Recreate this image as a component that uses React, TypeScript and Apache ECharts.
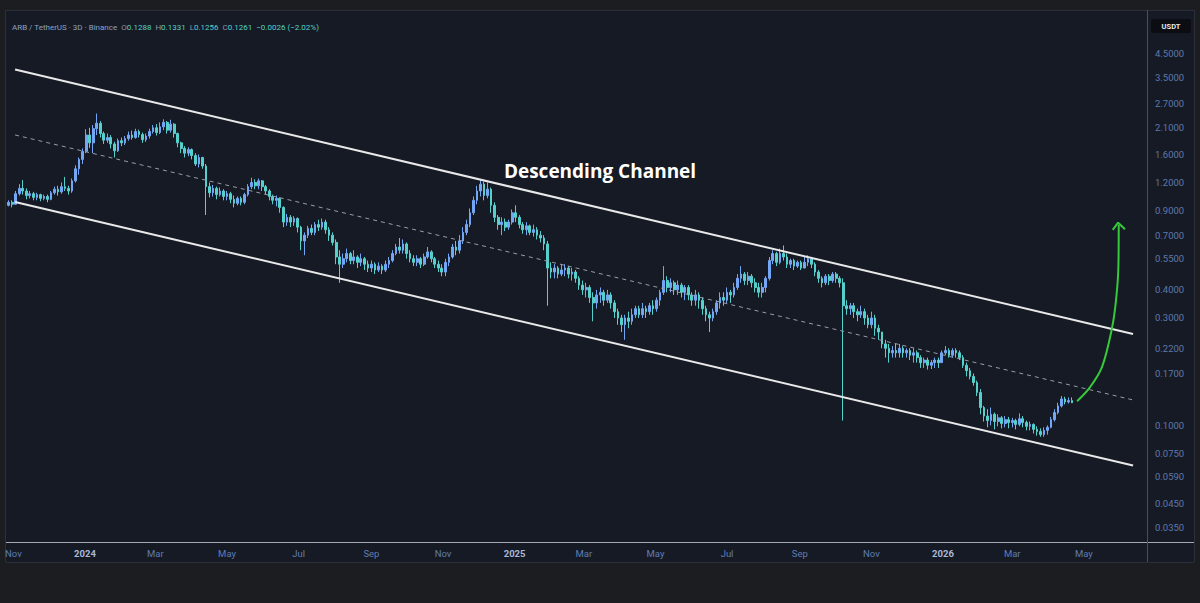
import React, { useEffect, useRef } from "react";
import * as echarts from "echarts";

// ---------------- DATA ----------------
const FIRST_CANDLE = Date.UTC(2023, 9, 28);
const CANDLE_STEP_DAYS = 3;
const firstOpen = 0.95;

const closes = [
  0.98, 0.96, 1.07, 1.13, 1.10, 1.05, 1.07, 1.03, 1.06, 1.02,
  1.04, 1.01, 1.08, 1.12, 1.09, 1.15, 1.13, 1.10, 1.22, 1.38,
  1.52, 1.65, 1.95, 1.80, 2.08, 2.20, 1.98, 1.85, 1.90, 1.78,
  1.66, 1.84, 1.80, 1.88, 1.95, 1.90, 2.02, 1.96, 1.86, 1.93,
  2.02, 2.10, 2.00, 2.12, 2.22, 2.05, 2.18, 1.98, 1.80, 1.70,
  1.62, 1.68, 1.58, 1.45, 1.55, 1.42, 1.15, 1.08, 1.13, 1.06,
  1.10, 1.04, 1.07, 1.01, 0.97, 1.02, 0.98, 1.06, 1.15, 1.20,
  1.16, 1.22, 1.15, 1.10, 1.04, 1.00, 1.02, 0.93, 0.80, 0.84,
  0.80, 0.83, 0.76, 0.66, 0.70, 0.75, 0.72, 0.78, 0.76, 0.80,
  0.74, 0.70, 0.65, 0.56, 0.52, 0.55, 0.58, 0.54, 0.56, 0.53,
  0.55, 0.52, 0.50, 0.52, 0.49, 0.51, 0.49, 0.52, 0.54, 0.58,
  0.62, 0.60, 0.64, 0.58, 0.55, 0.53, 0.55, 0.52, 0.56, 0.59,
  0.55, 0.52, 0.50, 0.48, 0.53, 0.56, 0.62, 0.60, 0.66, 0.72,
  0.78, 0.88, 1.00, 1.10, 1.18, 1.05, 1.12, 0.95, 0.84, 0.78,
  0.80, 0.76, 0.80, 0.88, 0.84, 0.78, 0.74, 0.77, 0.72, 0.74,
  0.70, 0.68, 0.64, 0.50, 0.48, 0.50, 0.47, 0.49, 0.50, 0.47,
  0.48, 0.45, 0.42, 0.40, 0.41, 0.37, 0.35, 0.38, 0.39, 0.36,
  0.38, 0.35, 0.32, 0.30, 0.28, 0.30, 0.29, 0.31, 0.33, 0.31,
  0.33, 0.32, 0.34, 0.33, 0.36, 0.39, 0.44, 0.41, 0.43, 0.40,
  0.42, 0.39, 0.41, 0.38, 0.36, 0.38, 0.36, 0.33, 0.31, 0.30,
  0.32, 0.35, 0.37, 0.36, 0.39, 0.38, 0.41, 0.45, 0.47, 0.44,
  0.46, 0.43, 0.41, 0.39, 0.41, 0.45, 0.54, 0.58, 0.53, 0.58,
  0.56, 0.52, 0.54, 0.51, 0.53, 0.50, 0.53, 0.55, 0.52, 0.48,
  0.45, 0.43, 0.46, 0.44, 0.47, 0.45, 0.43, 0.34, 0.33, 0.34,
  0.32, 0.31, 0.32, 0.30, 0.28, 0.30, 0.27, 0.26, 0.23, 0.22,
  0.21, 0.215, 0.21, 0.22, 0.21, 0.215, 0.205, 0.21, 0.20, 0.19,
  0.195, 0.185, 0.19, 0.195, 0.19, 0.21, 0.215, 0.205, 0.215, 0.21,
  0.20, 0.185, 0.175, 0.165, 0.155, 0.14, 0.12, 0.11, 0.105, 0.112,
  0.104, 0.108, 0.102, 0.106, 0.103, 0.105, 0.101, 0.107, 0.103, 0.099,
  0.101, 0.096, 0.094, 0.091, 0.095, 0.098, 0.106, 0.114, 0.122, 0.131,
  0.127, 0.1288, 0.1261,
];

const highs = [
  1.00, 1.00, 1.10, 1.18, 1.23, 1.13, 1.10, 1.09, 1.08, 1.07,
  1.06, 1.06, 1.10, 1.15, 1.16, 1.20, 1.27, 1.16, 1.25, 1.43,
  1.55, 1.70, 2.07, 2.10, 2.16, 2.43, 2.25, 2.02, 1.98, 1.95,
  1.82, 1.88, 1.90, 1.93, 2.02, 2.04, 2.08, 2.06, 2.00, 1.98,
  2.08, 2.16, 2.18, 2.22, 2.29, 2.25, 2.28, 2.20, 2.00, 1.82,
  1.74, 1.72, 1.70, 1.62, 1.60, 1.56, 1.45, 1.20, 1.17, 1.15,
  1.14, 1.12, 1.10, 1.09, 1.05, 1.04, 1.04, 1.08, 1.18, 1.26,
  1.24, 1.25, 1.23, 1.17, 1.12, 1.06, 1.05, 1.03, 0.94, 0.87,
  0.86, 0.85, 0.84, 0.77, 0.72, 0.77, 0.78, 0.80, 0.82, 0.83,
  0.82, 0.76, 0.72, 0.67, 0.60, 0.58, 0.61, 0.59, 0.60, 0.57,
  0.58, 0.56, 0.54, 0.54, 0.53, 0.53, 0.52, 0.54, 0.56, 0.60,
  0.64, 0.68, 0.67, 0.65, 0.60, 0.57, 0.57, 0.56, 0.58, 0.62,
  0.60, 0.56, 0.54, 0.52, 0.55, 0.58, 0.64, 0.66, 0.70, 0.76,
  0.82, 0.92, 1.04, 1.16, 1.24, 1.21, 1.20, 1.14, 0.98, 0.86,
  0.84, 0.83, 0.82, 0.91, 0.95, 0.86, 0.80, 0.80, 0.78, 0.78,
  0.76, 0.73, 0.70, 0.66, 0.53, 0.52, 0.51, 0.52, 0.52, 0.51,
  0.50, 0.49, 0.46, 0.44, 0.43, 0.42, 0.39, 0.40, 0.41, 0.40,
  0.40, 0.39, 0.36, 0.33, 0.31, 0.31, 0.32, 0.33, 0.34, 0.34,
  0.35, 0.34, 0.35, 0.36, 0.37, 0.40, 0.51, 0.46, 0.45, 0.44,
  0.44, 0.43, 0.42, 0.42, 0.39, 0.40, 0.39, 0.37, 0.34, 0.32,
  0.33, 0.36, 0.39, 0.39, 0.41, 0.40, 0.43, 0.47, 0.51, 0.48,
  0.48, 0.47, 0.45, 0.43, 0.43, 0.46, 0.56, 0.60, 0.59, 0.61,
  0.63, 0.58, 0.55, 0.55, 0.54, 0.54, 0.56, 0.57, 0.56, 0.53,
  0.49, 0.46, 0.47, 0.47, 0.48, 0.48, 0.46, 0.45, 0.36, 0.35,
  0.35, 0.33, 0.34, 0.33, 0.31, 0.32, 0.31, 0.28, 0.26, 0.24,
  0.23, 0.225, 0.23, 0.23, 0.225, 0.22, 0.22, 0.22, 0.215, 0.205,
  0.20, 0.20, 0.195, 0.20, 0.20, 0.215, 0.225, 0.22, 0.22, 0.22,
  0.215, 0.205, 0.19, 0.18, 0.17, 0.158, 0.145, 0.122, 0.118, 0.12,
  0.114, 0.112, 0.11, 0.11, 0.109, 0.108, 0.107, 0.113, 0.11, 0.105,
  0.104, 0.102, 0.099, 0.097, 0.098, 0.10, 0.109, 0.118, 0.126, 0.135,
  0.134, 0.133, 0.1331,
];

const lows = [
  0.94, 0.93, 0.96, 1.05, 1.06, 1.01, 1.02, 1.00, 1.00, 0.99,
  1.00, 0.98, 1.00, 1.06, 1.05, 1.07, 1.10, 1.06, 1.08, 1.20,
  1.30, 1.45, 1.62, 1.71, 1.62, 1.95, 1.90, 1.78, 1.80, 1.70,
  1.55, 1.64, 1.74, 1.76, 1.84, 1.86, 1.88, 1.90, 1.80, 1.82,
  1.88, 1.98, 1.94, 1.97, 2.05, 1.98, 2.00, 1.90, 1.72, 1.62,
  1.55, 1.57, 1.52, 1.42, 1.40, 1.38, 0.86, 1.03, 1.04, 1.01,
  1.04, 1.00, 1.00, 0.97, 0.93, 0.95, 0.95, 0.96, 1.04, 1.12,
  1.12, 1.12, 1.10, 1.06, 1.00, 0.96, 0.94, 0.88, 0.76, 0.77,
  0.76, 0.77, 0.72, 0.60, 0.57, 0.68, 0.70, 0.70, 0.73, 0.74,
  0.71, 0.66, 0.63, 0.52, 0.43, 0.50, 0.53, 0.52, 0.52, 0.50,
  0.51, 0.49, 0.48, 0.48, 0.47, 0.48, 0.47, 0.48, 0.50, 0.53,
  0.57, 0.58, 0.58, 0.55, 0.53, 0.51, 0.51, 0.50, 0.51, 0.55,
  0.53, 0.50, 0.48, 0.46, 0.46, 0.51, 0.55, 0.57, 0.58, 0.64,
  0.70, 0.76, 0.86, 0.96, 1.04, 1.00, 1.02, 0.88, 0.80, 0.74,
  0.70, 0.73, 0.74, 0.78, 0.80, 0.75, 0.71, 0.70, 0.70, 0.69,
  0.67, 0.65, 0.60, 0.34, 0.45, 0.45, 0.45, 0.46, 0.46, 0.45,
  0.44, 0.43, 0.40, 0.38, 0.37, 0.35, 0.29, 0.33, 0.35, 0.34,
  0.35, 0.33, 0.30, 0.28, 0.26, 0.24, 0.27, 0.28, 0.30, 0.30,
  0.30, 0.30, 0.31, 0.31, 0.32, 0.34, 0.38, 0.39, 0.39, 0.38,
  0.38, 0.37, 0.36, 0.36, 0.34, 0.34, 0.33, 0.31, 0.29, 0.26,
  0.29, 0.31, 0.33, 0.34, 0.35, 0.35, 0.37, 0.40, 0.43, 0.42,
  0.42, 0.41, 0.39, 0.37, 0.37, 0.39, 0.44, 0.52, 0.51, 0.52,
  0.54, 0.50, 0.50, 0.49, 0.50, 0.49, 0.50, 0.51, 0.50, 0.46,
  0.43, 0.41, 0.42, 0.42, 0.43, 0.43, 0.41, 0.105, 0.31, 0.31,
  0.30, 0.29, 0.30, 0.28, 0.27, 0.27, 0.25, 0.24, 0.22, 0.20,
  0.19, 0.20, 0.20, 0.20, 0.20, 0.20, 0.195, 0.19, 0.19, 0.18,
  0.18, 0.177, 0.178, 0.18, 0.18, 0.19, 0.205, 0.20, 0.20, 0.20,
  0.195, 0.18, 0.165, 0.16, 0.15, 0.135, 0.112, 0.104, 0.098, 0.10,
  0.096, 0.099, 0.097, 0.098, 0.097, 0.098, 0.096, 0.099, 0.098, 0.095,
  0.095, 0.092, 0.09, 0.089, 0.089, 0.091, 0.097, 0.104, 0.112, 0.12,
  0.124, 0.125, 0.1256,
];

// Channel lines: [time, price]
const upperChannel: [number, number][] = [
  [Date.UTC(2023, 10, 2, 10), 3.81],
  [Date.UTC(2026, 5, 11, 22), 0.2547],
];
const lowerChannel: [number, number][] = [
  [Date.UTC(2023, 10, 2, 10), 0.983],
  [Date.UTC(2026, 5, 11, 22), 0.0663],
];
const midChannel: [number, number][] = [
  [Date.UTC(2023, 10, 2, 10), 1.951],
  [Date.UTC(2026, 5, 11, 22), 0.1297],
];

// Projection arrow
const arrowPath: [number, number][] = [
  [Date.UTC(2026, 3, 25, 5), 0.128],
  [Date.UTC(2026, 4, 6, 7), 0.148],
  [Date.UTC(2026, 4, 16, 12), 0.182],
  [Date.UTC(2026, 4, 25, 0), 0.271],
  [Date.UTC(2026, 4, 28, 10), 0.36],
  [Date.UTC(2026, 4, 30, 10), 0.505],
  [Date.UTC(2026, 4, 30, 17), 0.777],
];
const arrowHead: [number, number][] = [
  [Date.UTC(2026, 4, 25, 14), 0.739],
  [Date.UTC(2026, 4, 30, 5), 0.795],
  [Date.UTC(2026, 5, 5, 2), 0.743],
];

const lastPriceLabel = "0.1261";
const priceTicks = [4.5, 3.5, 2.7, 2.1, 1.6, 1.2, 0.9, 0.7, 0.55, 0.4, 0.3, 0.22, 0.17, 0.1, 0.075, 0.059, 0.045, 0.035];
const timeTicks = [
  Date.UTC(2023, 10, 1), Date.UTC(2024, 0, 1), Date.UTC(2024, 2, 1), Date.UTC(2024, 4, 1),
  Date.UTC(2024, 6, 1), Date.UTC(2024, 8, 1), Date.UTC(2024, 10, 1), Date.UTC(2025, 0, 1),
  Date.UTC(2025, 2, 1), Date.UTC(2025, 4, 1), Date.UTC(2025, 6, 1), Date.UTC(2025, 8, 1),
  Date.UTC(2025, 10, 1), Date.UTC(2026, 0, 1), Date.UTC(2026, 2, 1), Date.UTC(2026, 4, 1),
];
const monthNames = ["Jan", "Feb", "Mar", "Apr", "May", "Jun", "Jul", "Aug", "Sep", "Oct", "Nov", "Dec"];
const timeRange = [Date.UTC(2023, 9, 27, 9, 36), Date.UTC(2026, 5, 23, 19, 12)];
const priceRange = [0.03032, 7.008];

const headerText =
  "{t|ARB / TetherUS · 3D · Binance}  {k|O}{v|0.1288}  {k|H}{v|0.1331}  {k|L}{v|0.1256}  {k|C}{v|0.1261}  {v|−0.0026 (−2.02%)}";
const annotationText = "Descending Channel";

// ---------------- STYLE ----------------
const UP = "#74a6f6";
const DOWN = "#55d0cb";
const FONT = "Roboto, 'Noto Sans', sans-serif";

const DAY = 86400000;
const ln = Math.log;

export default function App() {
  const ref = useRef<HTMLDivElement>(null);

  useEffect(() => {
    if (!ref.current) return;
    const chart = echarts.init(ref.current, null, { renderer: "svg" });

    const candles = closes.map((c, i) => {
      const o = i === 0 ? firstOpen : closes[i - 1];
      const h = Math.max(highs[i], o, c);
      const l = Math.min(lows[i], o, c);
      const t = FIRST_CANDLE + i * CANDLE_STEP_DAYS * DAY;
      return [t, ln(o), ln(c), ln(l), ln(h)];
    });
    const toLog = (pts: [number, number][]) => pts.map(([t, p]) => [t, ln(p)]);

    const option: any = {
      animation: false,
      backgroundColor: "transparent",
      grid: { left: 8, right: 53, top: 10, bottom: 61, containLabel: false },
      xAxis: {
        type: "value",
        min: timeRange[0],
        max: timeRange[1],
        axisLine: { show: false },
        axisTick: { show: false },
        splitLine: { show: false },
        axisLabel: {
          customValues: timeTicks,
          margin: 6,
          formatter: (v: number) => {
            const d = new Date(v);
            const m = d.getUTCMonth();
            return m === 0 ? `{y|${d.getUTCFullYear()}}` : `{m|${monthNames[m]}}`;
          },
          rich: {
            y: { color: "#a9b9d6", fontWeight: "bold", fontSize: 9.5, fontFamily: FONT },
            m: { color: "#5f7db3", fontSize: 9.5, fontFamily: FONT },
          },
        },
      },
      yAxis: {
        type: "value",
        position: "right",
        min: ln(priceRange[0]),
        max: ln(priceRange[1]),
        axisLine: { show: false },
        axisTick: { show: false },
        splitLine: { show: false },
        axisLabel: {
          customValues: priceTicks.map((p) => ln(p)),
          margin: 8,
          color: "#5d79ad",
          fontSize: 9.5,
          fontFamily: FONT,
          formatter: (v: number) => Math.exp(v).toFixed(4),
        },
      },
      graphic: [
        {
          type: "rect",
          z: -10,
          silent: true,
          shape: { x: 5.5, y: 10.5, width: 1189, height: 552 },
          style: { fill: "#161a25", stroke: "#2b2f3a", lineWidth: 1 },
        },
        {
          type: "line",
          z: 50,
          silent: true,
          shape: { x1: 6, y1: 542.5, x2: 1194, y2: 542.5 },
          style: { stroke: "#a5a8b0", lineWidth: 1 },
        },
        {
          type: "line",
          z: 50,
          silent: true,
          shape: { x1: 1147.5, y1: 10, x2: 1147.5, y2: 562 },
          style: { stroke: "#4b4f5a", lineWidth: 1 },
        },
        {
          type: "rect",
          z: 50,
          silent: true,
          shape: { x: 1151, y: 19, width: 40, height: 14, r: 2 },
          style: { fill: "#0b0d12" },
        },
        {
          type: "text",
          z: 51,
          silent: true,
          x: 1171,
          y: 26,
          style: {
            text: "USDT",
            fill: "#e6e8ec",
            font: `bold 7.5px ${FONT}`,
            align: "center",
            verticalAlign: "middle",
          },
        },
        {
          type: "text",
          z: 51,
          silent: true,
          x: 12,
          y: 27,
          style: {
            text: headerText,
            verticalAlign: "middle",
            font: `8px ${FONT}`,
            fill: "#8ea0c0",
            rich: {
              t: { fill: "#8ea0c0", fontSize: 8, fontFamily: FONT },
              k: { fill: "#8a93a6", fontSize: 8, fontFamily: FONT },
              v: { fill: DOWN, fontSize: 8, fontFamily: FONT },
            },
          },
        },
        {
          type: "text",
          z: 51,
          silent: true,
          x: 600,
          y: 171,
          style: {
            text: annotationText,
            fill: "#ffffff",
            font: `bold 19px 'Open Sans', sans-serif`,
            align: "center",
            verticalAlign: "middle",
          },
        },
      ],
      series: [
        {
          type: "candlestick",
          data: candles,
          encode: { x: 0, y: [1, 2, 3, 4] },
          barWidth: 2.2,
          itemStyle: {
            color: UP,
            color0: DOWN,
            borderColor: UP,
            borderColor0: DOWN,
            borderWidth: 1,
          },
          silent: true,
          z: 3,
          markLine: {
            silent: true,
            symbol: "none",
            lineStyle: { opacity: 0 },
            label: {
              show: true,
              position: "end",
              distance: 3,
              formatter: lastPriceLabel,
              backgroundColor: "#72a9f2",
              color: "#0d1a33",
              padding: [2, 4, 2, 4],
              borderRadius: 1,
              fontSize: 9.5,
              fontFamily: FONT,
            },
            data: [{ yAxis: ln(closes[closes.length - 1]) }],
          },
        },
        {
          type: "line",
          data: toLog(upperChannel),
          symbol: "none",
          silent: true,
          lineStyle: { color: "#e9e9ea", width: 2 },
          z: 4,
        },
        {
          type: "line",
          data: toLog(lowerChannel),
          symbol: "none",
          silent: true,
          lineStyle: { color: "#e9e9ea", width: 2 },
          z: 4,
        },
        {
          type: "line",
          data: toLog(midChannel),
          symbol: "none",
          silent: true,
          lineStyle: { color: "#9a9da4", width: 1, type: [4, 4] },
          z: 4,
        },
        {
          type: "line",
          data: toLog(arrowPath),
          symbol: "none",
          smooth: 0.35,
          silent: true,
          lineStyle: { color: "#36c93a", width: 2 },
          z: 5,
        },
        {
          type: "line",
          data: toLog(arrowHead),
          symbol: "none",
          silent: true,
          lineStyle: { color: "#36c93a", width: 2 },
          z: 5,
        },
      ],
    };

    chart.setOption(option);
    return () => chart.dispose();
  }, []);

  return (
    <div
      style={{
        position: "fixed",
        left: 0,
        top: 0,
        width: 1200,
        height: 603,
        background: "#1c1d20",
      }}
    >
      <div ref={ref} style={{ width: 1200, height: 603 }} />
    </div>
  );
}
